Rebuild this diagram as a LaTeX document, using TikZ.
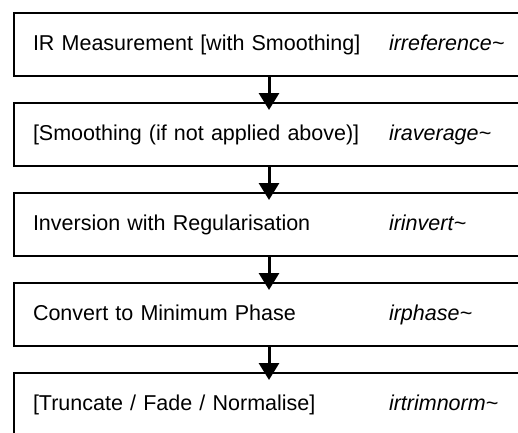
\documentclass[tikz,border=0pt]{standalone}
\usepackage{fontspec}
\setmainfont{Liberation Sans}
\usetikzlibrary{positioning,arrows.meta}
\tikzset{
  stage/.style={draw,line width=1.4pt,minimum width=510pt,minimum height=63pt,
    inner sep=0pt,outer sep=0pt,text width=510pt,align=left,
    font=\fontsize{21.5}{26}\selectfont},
  flow/.style={line width=3pt,shorten >=-7pt,-{Triangle[length=17pt,width=20pt]}}
}
\newcommand{\stagetext}[2]{\hspace*{19pt}\makebox[356pt][l]{#1}\textit{#2}}
\begin{document}
\begin{tikzpicture}[x=1pt,y=1pt]
 \useasboundingbox (0,0) rectangle (518,-432);
 \clip (0,0) rectangle (518,-432);
 \node[stage,anchor=north west] (measure) at (14,-13) {\stagetext{IR Measurement [with Smoothing]}{irreference\char`\~}};
 \node[stage,below=27pt of measure] (smooth) {\stagetext{[Smoothing (if not applied above)]}{iraverage\char`\~}};
 \node[stage,below=27pt of smooth] (invert) {\stagetext{Inversion with Regularisation}{irinvert\char`\~}};
 \node[stage,below=27pt of invert] (phase) {\stagetext{Convert to Minimum Phase}{irphase\char`\~}};
 \node[stage,below=27pt of phase] (trim) {\stagetext{[Truncate / Fade / Normalise]}{irtrimnorm\char`\~}};
 % arrows between the stages
 \draw[flow] (measure) -- (smooth);
 \draw[flow] (smooth) -- (invert);
 \draw[flow] (invert) -- (phase);
 \draw[flow] (phase) -- (trim);
\end{tikzpicture}
\end{document}
